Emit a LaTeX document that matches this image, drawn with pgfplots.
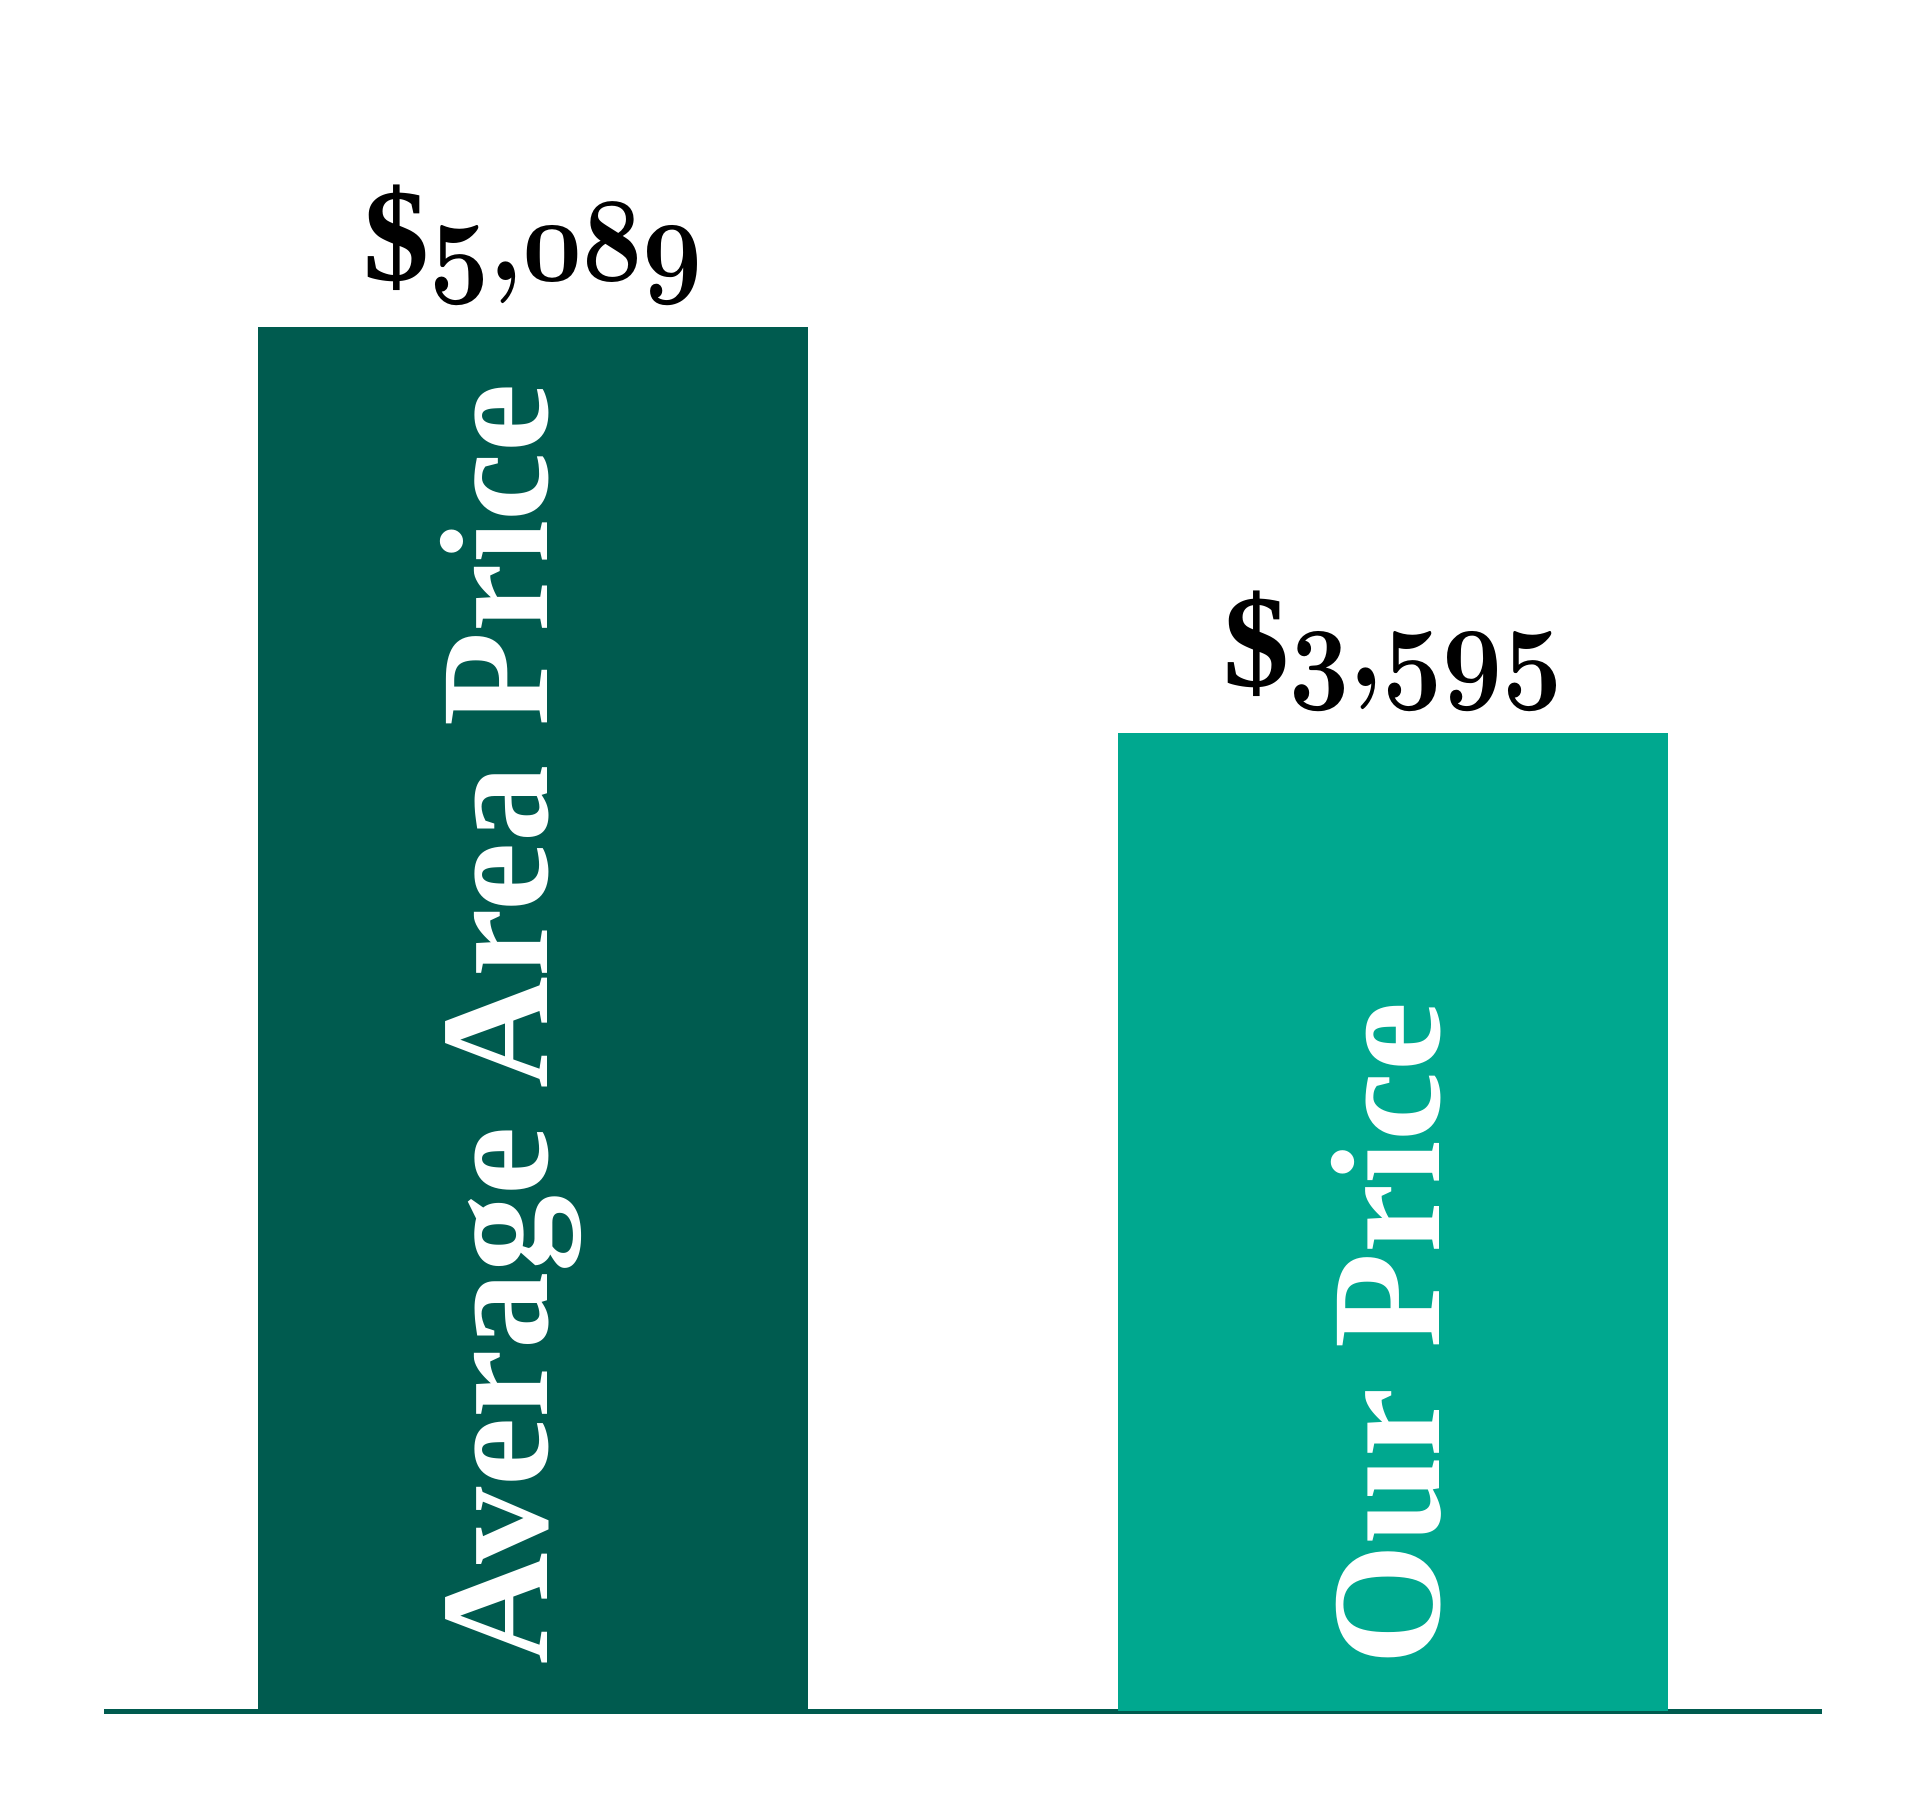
\documentclass[border=0pt]{standalone}
\usepackage{fontspec}
\setmainfont{Liberation Serif}
\usepackage{pgfplots}
\pgfplotsset{compat=1.18}
\definecolor{darkgreen}{RGB}{0,91,79}
\definecolor{lightgreen}{RGB}{0,168,143}
% old-style figures from the bold math letters font, a little enlarged
\newcommand\oldnum[1]{\scalebox{1.05}[1.2]{\boldmath$\mathnormal{#1}$}}
\begin{document}
\begin{tikzpicture}
\begin{axis}[
    name=main,
    scale only axis,
    width=480pt, height=448pt,
    xmin=-0.6198, xmax=1.6128,
    ymin=-297.8, ymax=6291,
    hide axis,
    clip=false,
    ybar, bar width=0.6395, bar shift=0pt,
    nodes near coords,
    point meta=explicit symbolic,
    every node near coord/.append style={font=\fontsize{33}{34}\selectfont\bfseries, text=black, anchor=base, yshift=11.6pt},
]
\addplot[draw=darkgreen, line width=1.25pt, sharp plot, nodes near coords={}, forget plot] coordinates {(-0.4988,0) (1.4988,0)};
\addplot[fill=darkgreen, draw=none] coordinates {(0,5089) [{\$\oldnum{5{,}089}}]};
\addplot[fill=lightgreen, draw=none] coordinates {(1,3595) [{\$\oldnum{3{,}595}}]};
\node[xshift=3.7pt, rotate=90, anchor=base west, inner sep=0pt, text=white, font=\fontsize{38.6}{40}\selectfont\bfseries] at (axis cs:0,169) {Average Area Price};
\node[xshift=11.7pt, rotate=90, anchor=base west, inner sep=0pt, text=white, font=\fontsize{39}{40}\selectfont\bfseries] at (axis cs:1,165) {Our Price};
\end{axis}
\pgfresetboundingbox
\path[use as bounding box] (main.south west) rectangle (main.north east);
\end{tikzpicture}
\end{document}
